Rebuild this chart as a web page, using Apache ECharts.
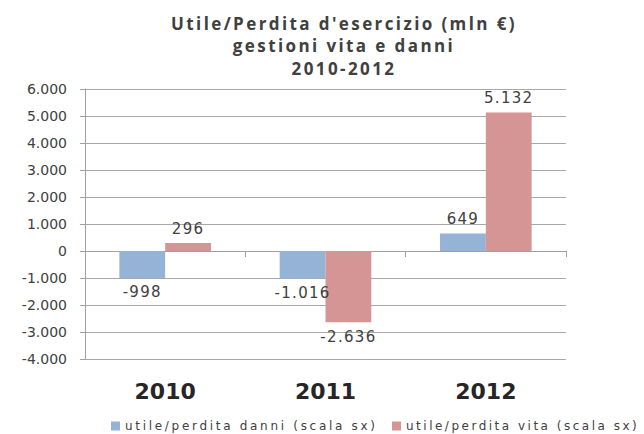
<!DOCTYPE html>
<html><head><meta charset="utf-8">
<script src="https://cdn.jsdelivr.net/npm/echarts@6/dist/echarts.min.js"></script>
<style>html,body{margin:0;padding:0;background:#fff}#c{width:644px;height:434px}</style>
</head><body><div id="c"></div>
<script>
const categories = ['2010', '2011', '2012'];
const danni = [-998, -1016, 649];
const vita = [296, -2636, 5132];
const seriesNames = ['utile/perdita danni (scala sx)', 'utile/perdita vita (scala sx)'];
const titleLines = ["Utile/Perdita d'esercizio (mln €)", 'gestioni vita e danni', '2010-2012'];

function fmt(v) {
  const s = Math.abs(v).toString().replace(/\B(?=(\d{3})+(?!\d))/g, '.');
  return (v < 0 ? '-' : '') + s;
}
function withLabels(arr) {
  return arr.map(v => ({ value: v, label: { position: v < 0 ? 'bottom' : 'top' } }));
}
const labelStyle = { show: true, color: '#404040', fontFamily: 'DejaVu Sans', fontSize: 15, distance: 7,
  formatter: p => fmt(p.value) };
const legendText = { fontFamily: 'DejaVu Sans', fontSize: 12, color: '#404040' };

const chart = echarts.init(document.getElementById('c'), null, { renderer: 'svg' });
chart.setOption({
  animation: false,
  title: { text: titleLines.join('\n'), left: 339, textAlign: 'center', top: 7,
    textStyle: { fontFamily: 'Open Sans', fontWeight: 'bold', fontSize: 17, color: '#404040', lineHeight: 22.5 } },
  legend: [
    { data: [seriesNames[0]], left: 106, top: 415, itemWidth: 9, itemHeight: 9, itemGap: 6, icon: 'rect', textStyle: legendText },
    { data: [seriesNames[1]], left: 387, top: 415, itemWidth: 9, itemHeight: 9, itemGap: 6, icon: 'rect', textStyle: legendText }
  ],
  grid: { left: 85, right: 78, top: 89, bottom: 75 },
  xAxis: [
    { type: 'category', data: categories, axisLine: { onZero: true, lineStyle: { color: '#a0a0a0' } },
      axisTick: { show: true, length: 6, lineStyle: { color: '#a0a0a0' } }, axisLabel: { show: false } },
    { type: 'category', data: categories, position: 'bottom', axisLine: { show: false, onZero: false },
      axisTick: { show: false },
      axisLabel: { margin: 21, fontFamily: 'DejaVu Sans', fontWeight: 'bold', fontSize: 22, color: '#262626' } }
  ],
  yAxis: { type: 'value', min: -4000, max: 6000, interval: 1000,
    axisLine: { show: true, lineStyle: { color: '#a0a0a0' } },
    axisTick: { show: true, length: 5, lineStyle: { color: '#a0a0a0' } },
    splitLine: { lineStyle: { color: '#a8a8a8' } },
    axisLabel: { margin: 18, fontFamily: 'DejaVu Sans', fontSize: 14, color: '#404040', formatter: v => fmt(v) } },
  series: [
    { name: seriesNames[0], type: 'bar', data: withLabels(danni), itemStyle: { color: '#95B3D7' },
      barGap: '0%', barCategoryGap: '42.86%', label: labelStyle },
    { name: seriesNames[1], type: 'bar', data: withLabels(vita), itemStyle: { color: '#D49594' },
      barGap: '0%', barCategoryGap: '42.86%', label: labelStyle }
  ]
});

function spaceTexts() {
  const dataLabels = danni.concat(vita).map(fmt);
  document.querySelectorAll('#c svg text').forEach(t => {
    const s = t.textContent;
    if (s === seriesNames[0]) {
      t.style.letterSpacing = '2.7px';
    } else if (s === seriesNames[1]) {
      t.style.letterSpacing = '2.5px';
    } else if (titleLines.indexOf(s) >= 0) {
      t.style.letterSpacing = '2.4px';
    } else if (dataLabels.indexOf(s) >= 0 && t.getAttribute('text-anchor') !== 'end') {
      t.style.letterSpacing = '1.3px';
    }
  });
}
chart.on('finished', spaceTexts);
setTimeout(spaceTexts, 50);
</script></body></html>
